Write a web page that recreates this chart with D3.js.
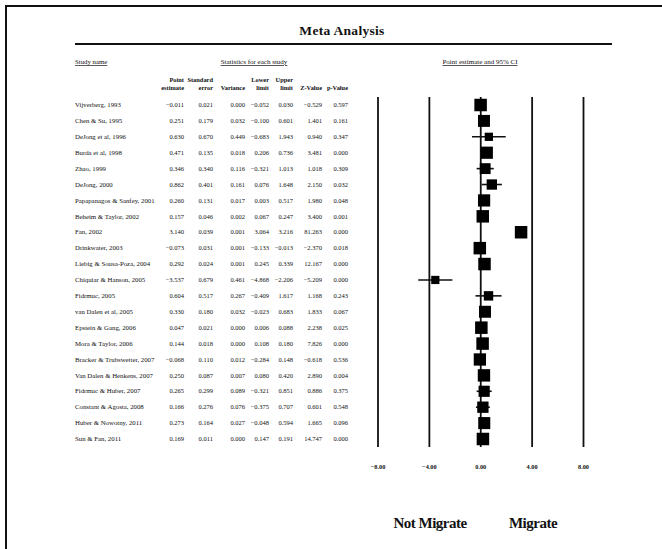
<!DOCTYPE html>
<html>
<head>
<meta charset="utf-8">
<script src="https://cdn.jsdelivr.net/npm/d3@7"></script>
<style>
  html, body { margin: 0; padding: 0; background: #fff; }
  svg { display: block; }
  text { font-family: "Liberation Serif", "DejaVu Serif", serif; fill: #111; }
</style>
</head>
<body>
<div id="chart"></div>
<script>
// study data
const studies = [
  "Vijverberg, 1993", "Chen & Su, 1995", "DeJong et al, 1996", "Burda et al, 1998",
  "Zhao, 1999", "DeJong, 2000", "Papapanagos & Sanfey, 2001", "Beheim & Taylor, 2002",
  "Fan, 2002", "Drinkwater, 2003", "Liebig & Sousa-Poza, 2004", "Chiquiar & Hanson, 2005",
  "Fidrmuc, 2005", "van Dalen et al, 2005", "Epstein & Gang, 2006", "Mora & Taylor, 2006",
  "Bracker & Trubswetter, 2007", "Van Dalen & Henkens, 2007", "Fidrmuc & Huber, 2007",
  "Constant & Agosta, 2008", "Huber & Nowotny, 2011", "Sun & Fan, 2011"
];
const pointEst = [-0.011, 0.251, 0.630, 0.471, 0.346, 0.862, 0.260, 0.157, 3.140, -0.073, 0.292,
  -3.537, 0.604, 0.330, 0.047, 0.144, -0.068, 0.250, 0.265, 0.166, 0.273, 0.169];
const stdErr = [0.021, 0.179, 0.670, 0.135, 0.340, 0.401, 0.131, 0.046, 0.039, 0.031, 0.024,
  0.679, 0.517, 0.180, 0.021, 0.018, 0.110, 0.087, 0.299, 0.276, 0.164, 0.011];
const variance = [0.000, 0.032, 0.449, 0.018, 0.116, 0.161, 0.017, 0.002, 0.001, 0.001, 0.001,
  0.461, 0.267, 0.032, 0.000, 0.000, 0.012, 0.007, 0.089, 0.076, 0.027, 0.000];
const lowerLimit = [-0.052, -0.100, -0.683, 0.206, -0.321, 0.076, 0.003, 0.067, 3.064, -0.133, 0.245,
  -4.868, -0.409, -0.023, 0.006, 0.108, -0.284, 0.080, -0.321, -0.375, -0.048, 0.147];
const upperLimit = [0.030, 0.601, 1.943, 0.736, 1.013, 1.648, 0.517, 0.247, 3.216, -0.013, 0.339,
  -2.206, 1.617, 0.683, 0.088, 0.180, 0.148, 0.420, 0.851, 0.707, 0.594, 0.191];
const zValue = [-0.529, 1.401, 0.940, 3.481, 1.018, 2.150, 1.980, 3.400, 81.263, -2.370, 12.167,
  -5.209, 1.168, 1.833, 2.238, 7.826, -0.618, 2.890, 0.886, 0.601, 1.665, 14.747];
const pValue = [0.597, 0.161, 0.347, 0.000, 0.309, 0.032, 0.048, 0.001, 0.000, 0.018, 0.000,
  0.000, 0.243, 0.067, 0.025, 0.000, 0.536, 0.004, 0.375, 0.548, 0.096, 0.000];
const axisTicks = [-8, -4, 0, 4, 8];
const tau2 = 0.35; // between-study variance used for square weights

const width = 662, height = 549;

const svg = d3.select("#chart").append("svg")
  .attr("width", width).attr("height", height);

// outer frame (runs off the right and bottom edges)
svg.append("rect")
  .attr("x", 6).attr("y", 6).attr("width", 700).attr("height", 600)
  .attr("fill", "none").attr("stroke", "#111").attr("stroke-width", 2);

// title + rule
svg.append("text").attr("x", 342).attr("y", 35).attr("text-anchor", "middle")
  .style("font-size", "13.5px").style("font-weight", "bold").style("letter-spacing", "0.3px")
  .text("Meta Analysis");
svg.append("line").attr("x1", 75).attr("x2", 612).attr("y1", 44).attr("y2", 44)
  .attr("stroke", "#111").attr("stroke-width", 2);

// section headings
const headY = 64;
svg.append("text").attr("x", 75).attr("y", headY).style("font-size", "6.8px")
  .style("text-decoration", "underline").text("Study name");
svg.append("text").attr("x", 254).attr("y", headY).attr("text-anchor", "middle").style("font-size", "7px")
  .style("text-decoration", "underline").text("Statistics for each study");
svg.append("text").attr("x", 480).attr("y", headY).attr("text-anchor", "middle").style("font-size", "7px")
  .style("text-decoration", "underline").text("Point estimate and 95% CI");

// table columns
const columns = [
  { head: ["Point", "estimate"], x: 184, vals: pointEst },
  { head: ["Standard", "error"], x: 213, vals: stdErr },
  { head: ["", "Variance"], x: 245, vals: variance },
  { head: ["Lower", "limit"], x: 269, vals: lowerLimit },
  { head: ["Upper", "limit"], x: 293, vals: upperLimit },
  { head: ["", "Z-Value"], x: 322, vals: zValue },
  { head: ["", "p-Value"], x: 348, vals: pValue }
];

const y = d3.scalePoint().domain(studies).range([105, 439]);

columns.forEach(c => {
  c.head.forEach((h, i) => {
    svg.append("text").attr("x", c.x).attr("y", 82 + i * 7.5)
      .attr("text-anchor", "end").style("font-size", "6.4px").style("font-weight", "bold")
      .text(h);
  });
});

const fmt = d3.format(".3f");
const rows = svg.append("g").selectAll("g").data(studies).join("g")
  .attr("transform", d => `translate(0,${y(d) + 2.2})`);
rows.append("text").attr("x", 75).style("font-size", "6.8px").text(d => d);
columns.forEach(c => {
  rows.append("text").attr("x", c.x).attr("text-anchor", "end").style("font-size", "6.5px")
    .text((d, i) => fmt(c.vals[i]));
});

// forest plot
const x = d3.scaleLinear().domain([-8, 8]).range([378, 583.5]);
const plotTop = 97, plotBottom = 447;

svg.append("g").selectAll("line").data(axisTicks).join("line")
  .attr("x1", d => x(d)).attr("x2", d => x(d))
  .attr("y1", plotTop).attr("y2", plotBottom)
  .attr("stroke", "#111").attr("stroke-width", 1.8);

svg.append("g").selectAll("text").data(axisTicks).join("text")
  .attr("x", d => x(d)).attr("y", 469).attr("text-anchor", "middle")
  .style("font-size", "6.3px").style("font-weight", "bold")
  .text(d => d3.format(".2f")(d));

const weights = variance.map(v => 1 / (v + tau2));
const side = d3.scaleSqrt().domain([0, d3.max(weights)]).range([0, 12.5]);

const marks = svg.append("g").selectAll("g").data(studies).join("g");
marks.append("line")
  .attr("x1", (d, i) => x(Math.max(-8, lowerLimit[i])))
  .attr("x2", (d, i) => x(Math.min(8, upperLimit[i])))
  .attr("y1", d => y(d)).attr("y2", d => y(d))
  .attr("stroke", "#111").attr("stroke-width", 1.6);
marks.append("rect")
  .attr("x", (d, i) => x(pointEst[i]) - side(weights[i]) / 2)
  .attr("y", (d, i) => y(d) - side(weights[i]) / 2)
  .attr("width", (d, i) => side(weights[i]))
  .attr("height", (d, i) => side(weights[i]))
  .attr("fill", "#000");

// direction labels
svg.append("text").attr("x", 430).attr("y", 528).attr("text-anchor", "middle")
  .style("font-size", "15px").style("font-weight", "bold").style("letter-spacing", "-0.5px")
  .text("Not Migrate");
svg.append("text").attr("x", 533).attr("y", 528).attr("text-anchor", "middle")
  .style("font-size", "15px").style("font-weight", "bold").style("letter-spacing", "-0.5px")
  .text("Migrate");
</script>
</body>
</html>
